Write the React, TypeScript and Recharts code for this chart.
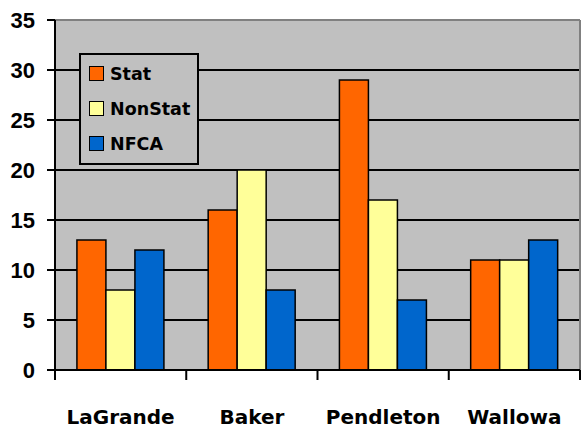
import {
  Bar,
  BarChart,
  CartesianGrid,
  ReferenceLine,
  XAxis,
  YAxis,
} from "recharts";

const categories = ["LaGrande", "Baker", "Pendleton", "Wallowa"];
const statValues = [13, 16, 29, 11];
const nonStatValues = [8, 20, 17, 11];
const nfcaValues = [12, 8, 7, 13];
const yTicks = [0, 5, 10, 15, 20, 25, 30, 35];

const series = [
  { key: "Stat", color: "#FF6600" },
  { key: "NonStat", color: "#FFFF99" },
  { key: "NFCA", color: "#0066CC" },
];

const data = categories.map((name, i) => ({
  name,
  Stat: statValues[i],
  NonStat: nonStatValues[i],
  NFCA: nfcaValues[i],
}));

const labelFont = "'DejaVu Sans', sans-serif";

// category label plus tick marks on the band edges (Excel style)
const CategoryTick = (props: any) => {
  const { x, y, payload, index, visibleTicksCount, width } = props;
  const band = (width || 525) / (visibleTicksCount || 4);
  const left = x - band / 2;
  const right = x + band / 2;
  const last = index === (visibleTicksCount || 4) - 1;
  return (
    <g>
      <line x1={left} y1={y} x2={left} y2={y + 10} stroke="#000" strokeWidth={2} />
      {last && (
        <line x1={right} y1={y} x2={right} y2={y + 10} stroke="#000" strokeWidth={2} />
      )}
      <text
        x={x}
        y={y + 54}
        textAnchor="middle"
        fill="#000"
        fontSize={20}
        fontWeight="bold"
        fontFamily={labelFont}
      >
        {payload.value}
      </text>
    </g>
  );
};

const LegendBox = () => (
  <div
    style={{
      position: "absolute",
      left: 79,
      top: 53,
      background: "#C0C0C0",
      border: "2px solid #000",
      boxSizing: "border-box",
      width: 120,
      height: 112,
      padding: "1px 0 0 8px",
    }}
  >
    {series.map((s) => (
      <div
        key={s.key}
        style={{ display: "flex", alignItems: "center", height: 35 }}
      >
        <span
          style={{
            width: 13,
            height: 13,
            background: s.color,
            border: "1.5px solid #000",
            marginRight: 6,
          }}
        />
        <span
          style={{
            fontFamily: labelFont,
            fontWeight: "bold",
            fontSize: 17.5,
            color: "#000",
          }}
        >
          {s.key}
        </span>
      </div>
    ))}
  </div>
);

export default function App() {
  return (
    <div
      style={{
        position: "absolute",
        left: 0,
        top: 0,
        width: 581,
        height: 430,
        background: "#fff",
      }}
    >
      <BarChart
        width={581}
        height={430}
        data={data}
        margin={{ top: 20, right: 1, bottom: 0, left: 0 }}
        barCategoryGap="16.7%"
        barGap={0}
      >
        <CartesianGrid
          vertical={false}
          fill="#C0C0C0"
          fillOpacity={1}
          stroke="#000"
          strokeWidth={2}
          horizontalValues={[5, 10, 15, 20, 25, 30]}
        />
        <ReferenceLine y={35} stroke="#808080" strokeWidth={2} />
        <ReferenceLine
          x="Wallowa"
          position="end"
          stroke="#808080"
          strokeWidth={2}
        />
        <XAxis
          dataKey="name"
          height={60}
          interval={0}
          tickSize={0}
          tickMargin={0}
          tickLine={false}
          axisLine={{ stroke: "#000", strokeWidth: 2 }}
          tick={<CategoryTick />}
        />
        <YAxis
          width={55}
          domain={[0, 35]}
          ticks={yTicks}
          interval={0}
          tickSize={8}
          tickMargin={12}
          axisLine={{ stroke: "#000", strokeWidth: 2 }}
          tickLine={{ stroke: "#000", strokeWidth: 2 }}
          tick={{
            fill: "#000",
            fontSize: 22,
            fontWeight: "bold",
            fontFamily: "'Liberation Sans', Arial, sans-serif",
          }}
        />
        {series.map((s) => (
          <Bar
            key={s.key}
            dataKey={s.key}
            fill={s.color}
            stroke="#000"
            strokeWidth={1.5}
            isAnimationActive={false}
          />
        ))}
      </BarChart>
      <LegendBox />
    </div>
  );
}
